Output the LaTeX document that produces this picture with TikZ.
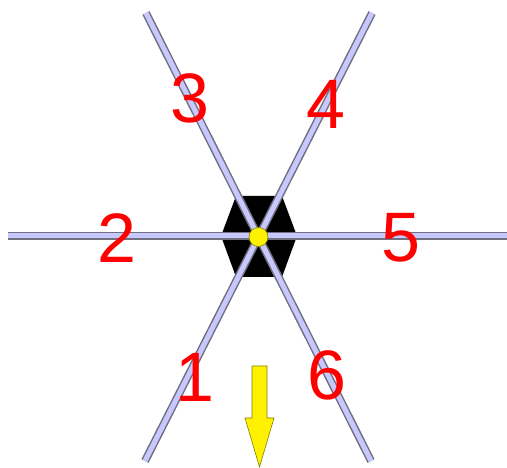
\documentclass[tikz,border=0pt]{standalone}
\usepackage{fontspec}
\setmainfont{Liberation Sans}
\definecolor{lav}{HTML}{C8C8FF}
\definecolor{spokeedge}{HTML}{707080}
\definecolor{olive}{HTML}{808000}
\tikzset{
  spoke/.style={draw=spokeedge, line width=1.5pt, double=lav, double distance=5pt},
  lbl/.style={text=red, font=\fontsize{70}{70}\selectfont, inner sep=0pt},
}
\begin{document}
\begin{tikzpicture}[x=1pt,y=-1pt]
\useasboundingbox (0,0) rectangle (507,468);
\coordinate (c) at (258.5,237);
\coordinate (t3) at (146,13);
\coordinate (b6) at (371,461);
\coordinate (t4) at (372,13);
\coordinate (b1) at (145,461);
\coordinate (l2) at (8,236);
\coordinate (r5) at (507,236);
% hexagon
\fill[black] (221,236) -- (236,196) -- (282,196) -- (297,236) -- (282,277) -- (236,277) -- cycle;
% spokes
\draw[spoke] (l2) -- (r5);
\draw[spoke] (t3) -- (b6);
\draw[spoke] (t4) -- (b1);
% centre dot
\node[circle, fill=yellow, draw=olive, line width=0.6pt, minimum size=19pt, inner sep=0pt] (dot) at (c) {};
% labels
\node[lbl] (n3) at (190,98) {3};
\node[lbl] (n4) at (326,104) {4};
\node[lbl] (n2) at (117,238) {2};
\node[lbl] (n5) at (401,238) {5};
\node[lbl] (n1) at (195,377) {1};
\node[lbl] (n6) at (327,375) {6};
% arrow
\filldraw[fill=yellow, draw=olive, line width=0.6pt]
  (252,366) -- (267,366) -- (267,418) -- (274,418) -- (259.5,467) -- (245,418) -- (252,418) -- cycle;
\end{tikzpicture}
\end{document}
